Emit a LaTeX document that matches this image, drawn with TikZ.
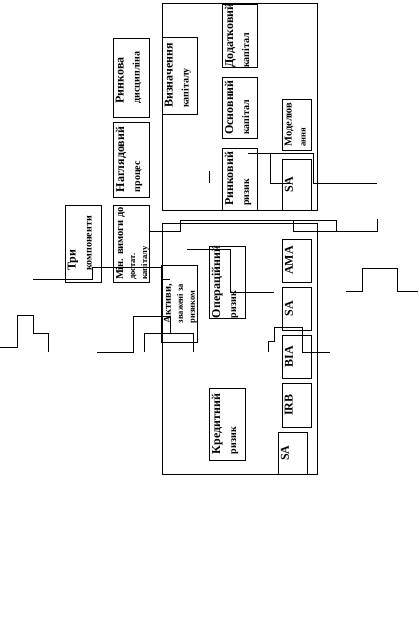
\documentclass[tikz,border=0pt]{standalone}
\usepackage{fontspec}
\setmainfont{Liberation Serif}
\newcommand{\fa}{\fontsize{12}{13}\selectfont}
\newcommand{\fb}{\fontsize{10}{13}\selectfont}
\newcommand{\fc}{\fontsize{10.5}{10.5}\selectfont}
\newcommand{\fd}{\fontsize{8.5}{10.5}\selectfont}
\begin{document}
\begin{tikzpicture}[x=1pt,y=-1pt,line width=0.7pt,
  bx/.style={draw,line width=0.7pt,inner sep=0pt,outer sep=0pt},
  lbl/.style={rotate=90,anchor=north,align=left,inner sep=1pt,font=\bfseries},
  ln/.style={line width=0.7pt}]
\useasboundingbox (0,0) rectangle (418,631);
% outer frames
\node[bx,minimum width=155pt,minimum height=207pt] (upper) at (239.5,106.5) {};
\node[bx,minimum width=155pt,minimum height=251pt] (lower) at (239.5,348.5) {};
% left column boxes
\node[bx,minimum width=36pt,minimum height=79pt] (rd) at (131,77.5) {};
\node[lbl] at (114.5,77.5) {\fa Ринкова\\[4pt]\fb дисципліна};
\node[bx,minimum width=36pt,minimum height=75pt] (np) at (131,159.5) {};
\node[lbl] at (114.5,159.5) {\fa Наглядовий\\[4pt]\fb процес};
\node[bx,minimum width=36pt,minimum height=77pt] (tri) at (83,243.5) {};
\node[lbl] at (66.5,243.5) {\fa Три\\[4pt]\fb компоненти};
\node[bx,minimum width=36pt,minimum height=77pt] (min) at (131,243.5) {};
\node[lbl] at (114.5,243.5) {\fc Мін. вимоги до\\[0pt]\fd достат.\\[0pt]\fd капіталу};
% upper frame boxes
\node[bx,minimum width=35pt,minimum height=77pt] (viz) at (179.5,75.5) {};
\node[lbl] at (163.5,75.5) {\fa Визначення\\[4pt]\fb капіталу};
\node[bx,minimum width=35pt,minimum height=63pt] (dod) at (239.5,35.5) {};
\node[lbl] at (223.5,35.5) {\fa Додатковий\\[4pt]\fb капітал};
\node[bx,minimum width=35pt,minimum height=61pt] (osn) at (239.5,107.5) {};
\node[lbl] at (223.5,107.5) {\fa Основний\\[4pt]\fb капітал};
\node[bx,minimum width=29pt,minimum height=51pt] (mod) at (296.5,124.5) {};
\node[lbl] at (283.5,124.5) {\fc Моделюв\\[2pt]\fd ання};
\node[bx,minimum width=35pt,minimum height=62pt] (rr) at (239.5,179) {};
\node[lbl] at (223.5,179) {\fa Ринковий\\[4pt]\fb ризик};
\node[bx,minimum width=29pt,minimum height=51pt] (sa1) at (296.5,184.5) {};
\node[lbl] at (283.5,184.5) {\fa SA};
% lower frame boxes
\node[bx,minimum width=36pt,minimum height=77pt] (akt) at (179,303.5) {};
\node[lbl] at (162.5,303.5) {\fc Активи,\\[0pt]\fd зважені за\\[0pt]\fd ризиком};
\node[bx,minimum width=36pt,minimum height=72pt] (op) at (227,282) {};
\node[lbl] at (210.5,282) {\fa Операційний\\[4pt]\fb ризик};
\node[bx,minimum width=36pt,minimum height=72pt] (kr) at (227,424) {};
\node[lbl] at (210.5,424) {\fa Кредитний\\[4pt]\fb ризик};
\node[bx,minimum width=29pt,minimum height=43pt] (ama) at (296.5,260.5) {};
\node[lbl] at (283.5,260.5) {\fa AMA};
\node[bx,minimum width=29pt,minimum height=43pt] (sa2) at (296.5,308.5) {};
\node[lbl] at (283.5,308.5) {\fa SA};
\node[bx,minimum width=29pt,minimum height=43pt] (bia) at (296.5,356.5) {};
\node[lbl] at (283.5,356.5) {\fa BIA};
\node[bx,minimum width=29pt,minimum height=44pt] (irb) at (296.5,405) {};
\node[lbl] at (283.5,405) {\fa IRB};
\node[bx,minimum width=29pt,minimum height=42pt] (sa3) at (292.5,453) {};
\node[lbl] at (279.5,453) {\fa SA};
% connectors
\draw[ln] (min.east |- 0,231) -- (180,231) -- (180,220) -- (336,220) -- (336,231);
\draw[ln] (293,220) -- (293,231) -- (377,231) -- (377,219);
\draw[ln] (248,153) -- (313,153) -- (313,183) -- (377,183);
\draw[ln] (270,153) -- (270,183) -- (291,183);
\draw[ln] (209,171) -- (209,183);
\draw[ln] (187,249) -- (230,249) -- (230,292) -- (274,292);
\draw[ln] (33,279) -- (92,279) -- (92,267) -- (161,267) -- (161,279) -- (170,279);
\draw[ln] (97,352) -- (133,352) -- (133,316) -- (170,316) -- (170,333);
\draw[ln] (144,352) -- (144,333) -- (193,333) -- (193,352);
\draw[ln] (0,347) -- (17,347) -- (17,315) -- (33,315) -- (33,333) -- (48,333) -- (48,352);
\draw[ln] (268,352) -- (268,341) -- (274,341) -- (274,327) -- (302,327) -- (302,352) -- (330,352);
\draw[ln] (346,291) -- (362,291) -- (362,268) -- (397,268) -- (397,291) -- (418,291);
\end{tikzpicture}
\end{document}
